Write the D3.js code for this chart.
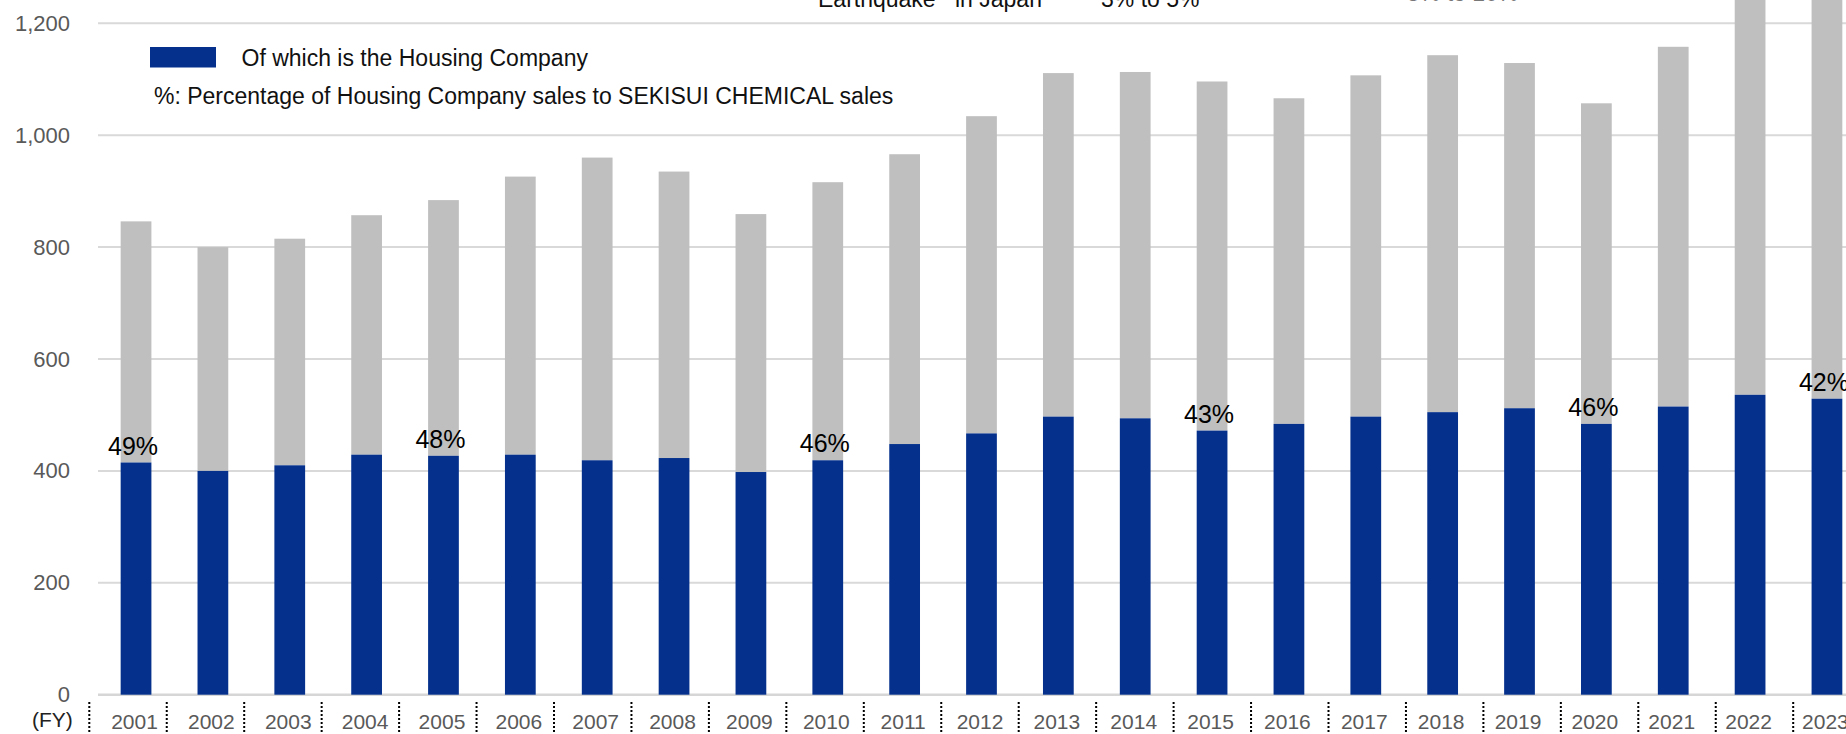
<!DOCTYPE html>
<html>
<head>
<meta charset="utf-8">
<script src="https://cdn.jsdelivr.net/npm/d3@7"></script>
<style>
  html, body { margin: 0; padding: 0; background: #fff; overflow: hidden; }
  svg { display: block; font-family: "Liberation Sans", Arial, Helvetica, sans-serif; }
</style>
</head>
<body>
<svg id="chart" width="1846" height="734"></svg>
<script>
// ---- data (billion yen) ----
const years = ["2001","2002","2003","2004","2005","2006","2007","2008","2009","2010","2011","2012",
               "2013","2014","2015","2016","2017","2018","2019","2020","2021","2022","2023"];
const totalSales = [846, 800, 815, 857, 884, 926, 960, 935, 859, 916, 966, 1034,
                    1111, 1113, 1096, 1066, 1107, 1143, 1129, 1057, 1158, 1242.5, 1256.5];
const housingSales = [415, 400, 410, 429, 427, 429, 419, 423, 398, 419, 448, 467,
                      497, 494, 472, 484, 497, 505, 512, 484, 515, 536, 529];
const pctLabels = [
  { year: "2001", text: "49%" },
  { year: "2005", text: "48%" },
  { year: "2010", text: "46%" },
  { year: "2015", text: "43%" },
  { year: "2020", text: "46%" },
  { year: "2023", text: "42%" }
];
const yTicks = [0, 200, 400, 600, 800, 1000, 1200];
const legendLabel = "Of which is the Housing Company";
const noteLabel = "%: Percentage of Housing Company sales to SEKISUI CHEMICAL sales";
const topNotes = ["Earthquake*", "in Japan", "3% to 5%", "5% to 10%"];
const fyLabel = "(FY)";

// ---- styles ----
const BLUE = "#05318c", GRAY = "#bfbfbf", GRID = "#d9d9d9", TICK = "#595959";

const svg = d3.select("#chart");
const W = 1846, H = 734;

const y = d3.scaleLinear().domain([0, 1200]).range([694.7, 23.3]);
const x = d3.scaleBand().domain(years).range([97.6, 97.6 + 23 * 76.86])
  .paddingInner(0.6).paddingOuter(0.3);
const sep = d3.scaleBand().domain(years).range([89.3, 89.3 + 23 * 77.45]).padding(0);

// gridlines
svg.append("g").selectAll("line").data(yTicks).join("line")
  .attr("x1", 98).attr("x2", W)
  .attr("y1", d => y(d)).attr("y2", d => y(d))
  .attr("stroke", d => d === 0 ? "#d6d6d6" : GRID)
  .attr("stroke-width", d => d === 0 ? 2.5 : 2);

// y tick labels
svg.append("g").selectAll("text").data(yTicks).join("text")
  .attr("x", 70).attr("y", d => y(d))
  .attr("text-anchor", "end").attr("dominant-baseline", "central")
  .attr("font-size", 22).attr("fill", TICK)
  .text(d => d3.format(",")(d));

// bars
const rows = years.map((yr, i) => ({ yr, total: totalSales[i], housing: housingSales[i] }));
const bars = svg.append("g");
bars.selectAll("rect.rest").data(rows).join("rect").attr("class", "rest")
  .attr("x", d => x(d.yr)).attr("width", x.bandwidth())
  .attr("y", d => y(d.total)).attr("height", d => y(d.housing) - y(d.total))
  .attr("fill", GRAY);
bars.selectAll("rect.house").data(rows).join("rect").attr("class", "house")
  .attr("x", d => x(d.yr)).attr("width", x.bandwidth())
  .attr("y", d => y(d.housing)).attr("height", d => y(0) - y(d.housing))
  .attr("fill", BLUE);

// percentage labels
svg.append("g").selectAll("text").data(pctLabels).join("text")
  .attr("x", d => x(d.year) + x.bandwidth() / 2 - 3)
  .attr("y", d => y(housingSales[years.indexOf(d.year)]) - 8)
  .attr("text-anchor", "middle").attr("font-size", 25).attr("fill", "#000")
  .text(d => d.text);

// x axis labels
svg.append("text").attr("x", 32).attr("y", 727).attr("font-size", 21).attr("fill", "#222").text(fyLabel);
svg.append("g").selectAll("text").data(years).join("text")
  .attr("x", d => x(d) + x.bandwidth() / 2 - 1.5).attr("y", 729)
  .attr("text-anchor", "middle").attr("font-size", 21).attr("fill", TICK)
  .text(d => d);
svg.append("g").selectAll("line").data(years).join("line")
  .attr("x1", d => sep(d)).attr("x2", d => sep(d))
  .attr("y1", 702).attr("y2", H)
  .attr("stroke", "#000").attr("stroke-width", 2).attr("stroke-dasharray", "2,2");

// legend
svg.append("rect").attr("x", 150).attr("y", 47).attr("width", 66).attr("height", 20.5).attr("fill", BLUE);
svg.append("text").attr("x", 241.5).attr("y", 65.5).attr("font-size", 23).attr("fill", "#111").text(legendLabel);
svg.append("text").attr("x", 154).attr("y", 103.5).attr("font-size", 23).attr("fill", "#111").text(noteLabel);

// clipped notes at top
svg.append("text").attr("x", 818).attr("y", 7).attr("font-size", 23).attr("fill", "#111").text(topNotes[0]);
svg.append("text").attr("x", 955).attr("y", 7).attr("font-size", 23).attr("fill", "#111").text(topNotes[1]);
svg.append("text").attr("x", 1101).attr("y", 7).attr("font-size", 23).attr("fill", "#111").text(topNotes[2]);
svg.append("text").attr("x", 1407).attr("y", 1).attr("font-size", 23).attr("fill", "#777").text(topNotes[3]);
</script>
</body>
</html>
